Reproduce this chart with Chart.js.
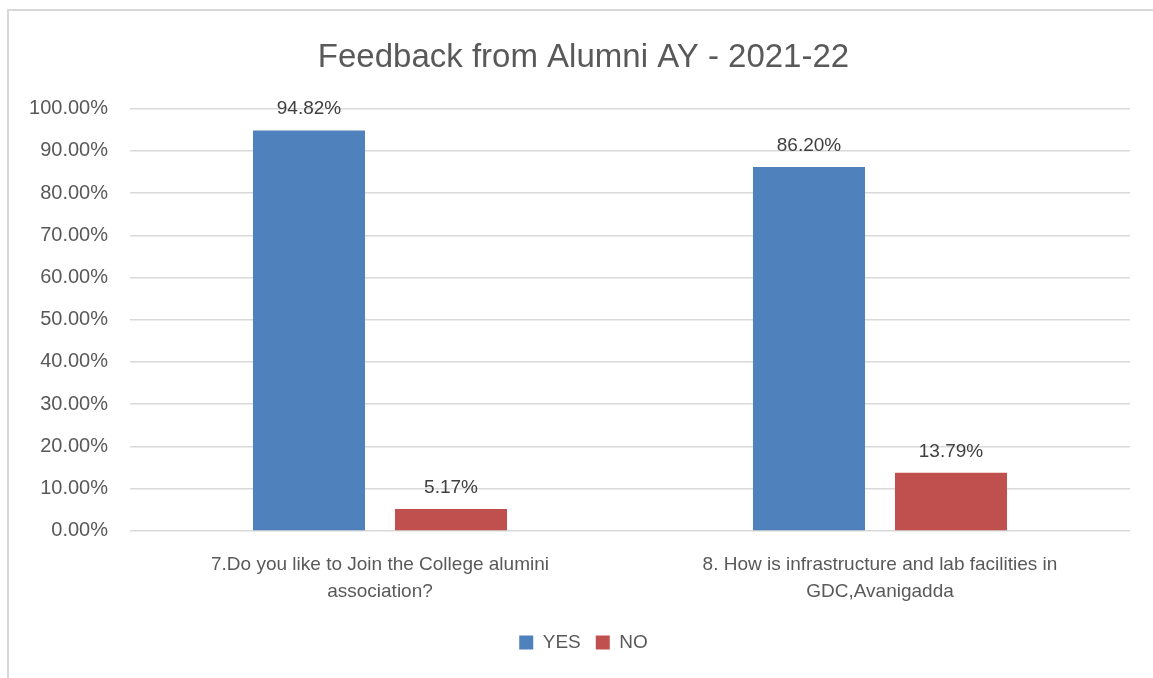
<!DOCTYPE html>
<html>
<head>
<meta charset="utf-8">
<script src="https://cdn.jsdelivr.net/npm/chart.js@4/dist/chart.umd.min.js"></script>
<style>
  html, body { margin: 0; padding: 0; background: #fff; }
  #frame { position: absolute; left: 7px; top: 9px; width: 1146px; height: 669px;
           border-left: 2px solid #D9D9D9; border-top: 2px solid #D9D9D9; box-sizing: border-box; }
  #wrap { position: absolute; left: 0; top: 0; width: 1153px; height: 678px; }
</style>
</head>
<body>
<div id="frame"></div>
<div id="wrap"><canvas id="grafico"></canvas></div>
<script>
// datos del grafico
const categorias = [
  ['7.Do you like to Join the College alumini', 'association?'],
  ['8. How is infrastructure and lab facilities in', 'GDC,Avanigadda']
];
const valoresYes = [0.9482, 0.862];
const valoresNo = [0.0517, 0.1379];
const titulo = 'Feedback from Alumni AY - 2021-22';

const FUENTE = '"Liberation Sans", Arial, sans-serif';
const GRIS = '#595959';

// etiquetas encima de cada barra
const etiquetasBarras = {
  id: 'etiquetasBarras',
  afterDatasetsDraw(chart) {
    const ctx = chart.ctx;
    ctx.save();
    ctx.font = '19px ' + FUENTE;
    ctx.fillStyle = '#404040';
    ctx.textAlign = 'center';
    ctx.textBaseline = 'alphabetic';
    chart.data.datasets.forEach((ds, i) => {
      chart.getDatasetMeta(i).data.forEach((bar, j) => {
        ctx.fillText((ds.data[j] * 100).toFixed(2) + '%', bar.x, bar.y - 16);
      });
    });
    ctx.restore();
  }
};

// corre titulo y leyenda un poco a la derecha (centrados como en el original)
const correrCentro = {
  id: 'correrCentro',
  afterLayout(chart) {
    [chart.titleBlock, chart.legend].forEach(b => {
      if (b) { b.left += 15; b.right += 15; }
    });
  }
};

const GRAFICO = document.getElementById('grafico');

let grafica = new Chart(GRAFICO, {
  type: 'bar',
  data: {
    labels: categorias,
    datasets: [
      { label: 'YES', data: valoresYes, backgroundColor: '#4F81BD',
        categoryPercentage: 0.568, barPercentage: 0.789 },
      { label: 'NO', data: valoresNo, backgroundColor: '#C0504D',
        categoryPercentage: 0.568, barPercentage: 0.789 }
    ]
  },
  options: {
    responsive: true,
    maintainAspectRatio: false,
    animation: false,
    layout: { padding: { left: 7, right: 23, top: 20, bottom: 16 } },
    plugins: {
      title: {
        display: true,
        text: titulo,
        color: GRIS,
        font: { family: FUENTE, size: 33, weight: 'normal' },
        padding: { top: 18, bottom: 31 }
      },
      legend: {
        position: 'bottom',
        labels: {
          color: GRIS,
          font: { family: FUENTE, size: 19 },
          boxWidth: 14, boxHeight: 14,
          padding: 15
        }
      },
      tooltip: { enabled: false }
    },
    scales: {
      x: {
        grid: { display: false },
        border: { display: false },
        ticks: {
          color: GRIS,
          font: { family: FUENTE, size: 19, lineHeight: 1.45 },
          maxRotation: 0,
          padding: 12
        }
      },
      y: {
        min: 0,
        max: 1,
        afterFit: s => { s.width = 123; },
        grid: { color: '#D9D9D9', lineWidth: 1.5, drawTicks: false },
        border: { display: false },
        ticks: {
          stepSize: 0.1,
          color: GRIS,
          font: { family: FUENTE, size: 20 },
          padding: 22,
          callback: v => (v * 100).toFixed(2) + '%'
        }
      }
    }
  },
  plugins: [etiquetasBarras, correrCentro]
});
</script>
</body>
</html>
